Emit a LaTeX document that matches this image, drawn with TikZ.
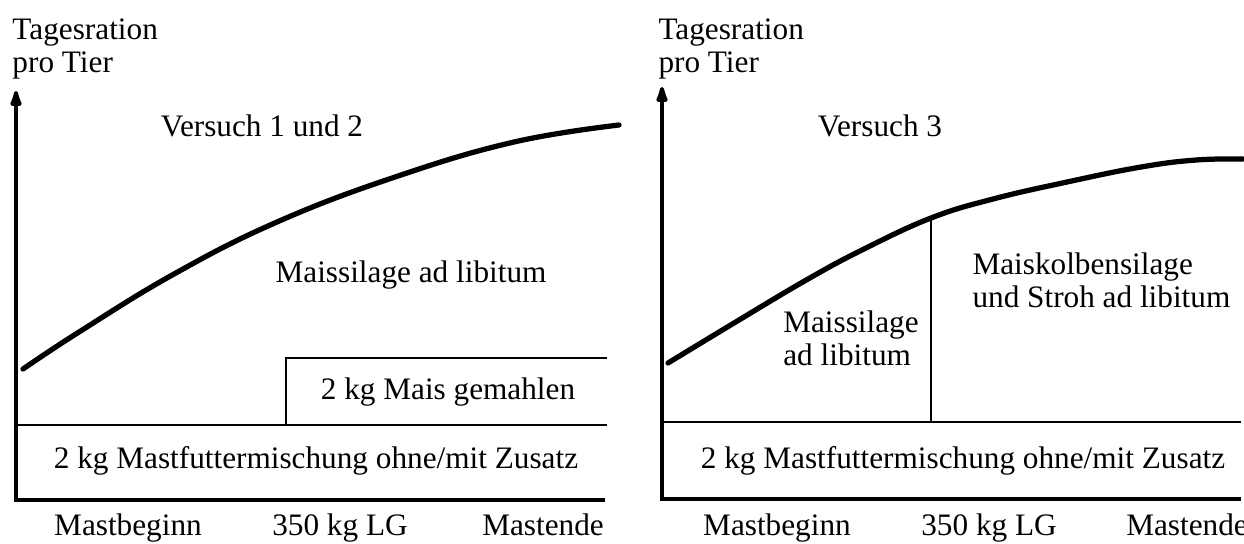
\documentclass[tikz,border=0pt]{standalone}
\usepackage{fontspec}
\setmainfont{Liberation Serif}
\usetikzlibrary{arrows.meta}

\begin{document}
\begin{tikzpicture}[x=0.4pt, y=-0.4pt, font=\fontsize{12.5}{13.2}\selectfont]
    \tikzstyle{axis} = [line width=1.5pt, -{Latex[length=9pt,width=5.4pt,round]}]
    \tikzstyle{level} = [line width=1pt]
    \tikzstyle{curve} = [line width=2.1pt, line cap=round, smooth, tension=0.7]
    \tikzstyle{txt} = [inner sep=0pt, align=left]
    \useasboundingbox (0,0) rectangle (1244,543);

    % left diagram: Versuch 1 und 2
    \coordinate (lorigin) at (16,500);
    \coordinate (lend) at (605,500);
    \coordinate (ltop) at (16,91);
    \draw [axis] (lend) -- (lorigin) -- (ltop);
    \draw [level] (16,425) -- (607,425);
    \draw [level] (286,425) -- (286,358) -- (607,358);
    \draw [curve] plot coordinates {(23,369) (79,332) (174,274) (277,222) (395,177) (514,142) (619,125)};

    \node [txt, anchor=north west] (lylabel) at (12,18) {Tagesration\\pro Tier};
    \node [txt] (lversuch) at (262,126) {Versuch 1 und 2};
    \node [txt] (lsilage) at (411,275) {Maissilage ad libitum};
    \node [txt] (lmais) at (448,392) {2 kg Mais gemahlen};
    \node [txt] (lmast) at (316,461) {2 kg Mastfuttermischung ohne/mit Zusatz};
    \node [txt, anchor=base] (lbeginn) at (128,535) {Mastbeginn};
    \node [txt, anchor=base] (llg) at (340,535) {350 kg LG};
    \node [txt, anchor=base] (lende) at (543,535) {Mastende};

    % right diagram: Versuch 3
    \coordinate (rorigin) at (662,499);
    \coordinate (rend) at (1241,499);
    \coordinate (rtop) at (662,87);
    \coordinate (rsplit) at (931,218);
    \draw [axis] (rend) -- (rorigin) -- (rtop);
    \draw [level] (662,422) -- (1241,422);
    \draw [level] (931,422) -- (rsplit);
    \draw [curve] plot coordinates {(668,363) (734,323) (808,279) (864,249) (rsplit) (993,199) (1067,182) (1141,167) (1196,160) (1243,159)};

    \node [txt, anchor=north west] (rylabel) at (658,18) {Tagesration\\pro Tier};
    \node [txt] (rversuch) at (880,126) {Versuch 3};
    \node [txt] (rsilage) at (851,338) {Maissilage\\ad libitum};
    \node [txt, anchor=west] (rkolben) at (972,280) {Maiskolbensilage\\und Stroh ad libitum};
    \node [txt] (rmast) at (963,461) {2 kg Mastfuttermischung ohne/mit Zusatz};
    \node [txt, anchor=base] (rbeginn) at (777,535) {Mastbeginn};
    \node [txt, anchor=base] (rlg) at (989,535) {350 kg LG};
    \node [txt, anchor=base] (rende) at (1187,535) {Mastende};
\end{tikzpicture}
\end{document}
